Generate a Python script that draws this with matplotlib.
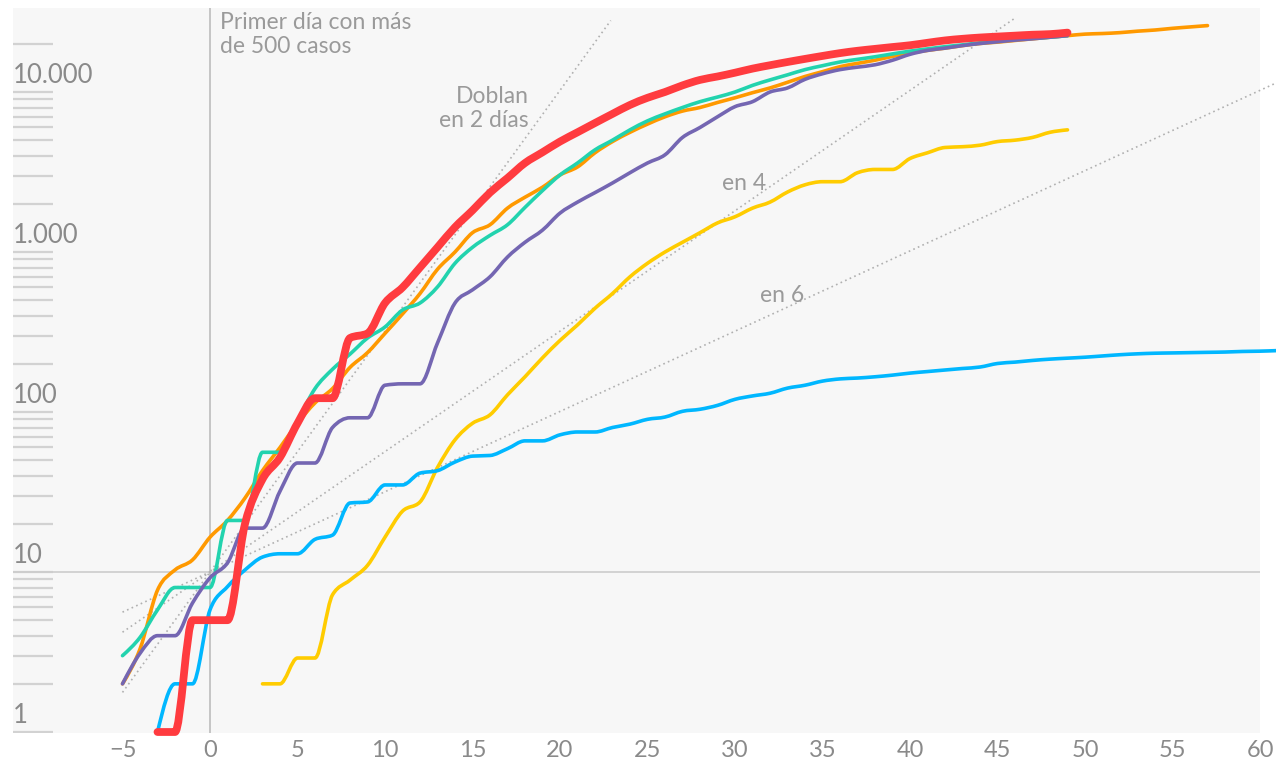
import numpy as np
import matplotlib
matplotlib.use("Agg")
import matplotlib.pyplot as plt
from matplotlib.path import Path
from matplotlib.patches import PathPatch

plt.rcParams['font.family'] = ['Lato', 'DejaVu Sans']

# ---------------- data ----------------
red_x = list(range(-3, 50))
red_y = [1, 1, 5, 5, 5, 20, 38, 52, 85, 122, 122, 290, 310, 480,
         600, 800, 1070, 1430, 1820, 2350, 2900, 3600, 4200, 4900,
         5600, 6400, 7300, 8300, 9200, 10000, 11000, 11900, 12500, 13200,
         14000, 14700, 15400, 16100, 16800, 17500, 18100, 18600, 19100, 19600,
         20300, 21000, 21500, 21900, 22200, 22500, 22800, 23000, 23500]

orange_x = list(range(-5, 58))
orange_y = [2, 3.3, 7.7, 10.3, 11.9, 16.5, 21, 29, 43, 60, 85, 114, 140, 190,
            235, 310, 410, 550, 780, 1000, 1320, 1480, 1880, 2200, 2540, 3030,
            3400, 4170, 4900, 5600, 6300, 7000, 7600, 8000, 8600, 9200, 9900,
            10600, 11500, 12500, 13400, 14400, 15100, 15800, 16700, 17500, 18200,
            18800, 19500, 20100, 20500, 21000, 21500, 22000, 22500, 23000, 23200,
            23500, 24000, 24400, 25000, 25500, 26000]

teal_x = list(range(-5, 50))
teal_y = [3, 3.9, 5.8, 8, 8, 8, 21, 21, 56, 56, 88, 140, 185, 230, 290, 340,
          434, 480, 605, 850, 1070, 1270, 1480, 1900, 2420, 3030, 3600, 4350,
          5000, 5800, 6600, 7300, 8000, 8700, 9300, 10000, 11000, 11900, 12800,
          13800, 14600, 15400, 16000, 16600, 17300, 18000, 18600, 19200, 19700,
          20300, 20800, 21300, 21700, 22000, 22500]

purple_x = list(range(-5, 50))
purple_y = [2, 3.1, 4, 4, 6.4, 9.2, 11.4, 18.8, 18.8, 32, 48, 48, 80, 92, 92,
            147, 150, 150, 270, 480, 580, 700, 930, 1150, 1370, 1750, 2050,
            2350, 2700, 3130, 3600, 4050, 5200, 6000, 7000, 8100, 8700, 10000,
            10600, 12000, 13000, 13800, 14300, 14800, 15800, 17200, 18200, 18800,
            19500, 20100, 20600, 21100, 21500, 22000, 22500]

yellow_x = list(range(3, 50))
yellow_y = [2, 2, 2.9, 2.9, 7.2, 8.9, 11, 16.5, 24, 27.4, 45, 67, 85, 96, 128,
            166, 218, 280, 350, 445, 550, 700, 850, 1000, 1150, 1320, 1520,
            1660, 1880, 2050, 2370, 2630, 2750, 2750, 3130, 3280, 3280, 3840,
            4170, 4500, 4550, 4650, 4900, 5000, 5200, 5600, 5800]

blue_x = list(range(-3, 62))
blue_y = [1, 2, 2, 5.8, 8.1, 10.3, 12.4, 13, 13, 16, 17, 27, 27.4, 35, 35,
          41.5, 43, 48.7, 53, 53.5, 59, 66, 66, 72, 75, 75, 80, 84, 90, 93,
          101, 104, 110, 120, 126, 131, 141, 147, 156, 161, 163, 166, 170, 175,
          179, 183, 187, 191, 201, 205, 210, 214, 217, 220, 224, 228, 231, 233,
          234, 235, 236, 237, 239, 240, 242]

doubling_days = [2, 4, 6]
doubling_start = -5
doubling_end = [22.9, 46, 61]

x_ticks = list(range(-5, 61, 5))
x_ticklabels = ['\u22125'] + [str(v) for v in range(0, 61, 5)]
y_labels = {10000: '10.000', 1000: '1.000', 100: '100', 10: '10', 1: '1'}

# ---------------- helpers ----------------
def monotone_path(xs, ys):
    x = np.asarray(xs, float)
    y = np.log10(np.asarray(ys, float))
    n = len(x)
    h = np.diff(x)
    s = np.diff(y) / h
    t = np.zeros(n)
    for i in range(1, n - 1):
        h0, h1, s0, s1 = h[i - 1], h[i], s[i - 1], s[i]
        p = (s0 * h1 + s1 * h0) / (h0 + h1)
        t[i] = (np.sign(s0) + np.sign(s1)) * min(abs(s0), abs(s1), 0.5 * abs(p))
    t[0] = (3 * s[0] - t[1]) / 2 if n > 2 else s[0]
    t[-1] = (3 * s[-1] - t[-2]) / 2 if n > 2 else s[-1]
    verts = [(x[0], y[0])]
    codes = [Path.MOVETO]
    for i in range(n - 1):
        dx = (x[i + 1] - x[i]) / 3
        verts += [(x[i] + dx, y[i] + dx * t[i]),
                  (x[i + 1] - dx, y[i + 1] - dx * t[i + 1]),
                  (x[i + 1], y[i + 1])]
        codes += [Path.CURVE4] * 3
    verts = np.array(verts)
    verts[:, 1] = 10 ** verts[:, 1]
    return Path(verts, codes)

# ---------------- figure ----------------
W, H = 1276, 767
fig = plt.figure(figsize=(W / 100, H / 100), dpi=100)
fig.patch.set_facecolor('white')

px_per_unit = 17.5
x0_px = 210
def xpx(p):
    return (p - x0_px) / px_per_unit
def ypx(p):
    return 10 ** ((732 - p) / 160)

XMIN, XMAX = xpx(13), xpx(1276)
YMIN, YMAX = ypx(733), ypx(8)

ax = fig.add_axes([13 / W, (H - 733) / H, 1 - 13 / W, (733 - 8) / H])
ax.set_yscale('log')
ax.set_xlim(XMIN, XMAX)
ax.set_ylim(YMIN, YMAX)
ax.set_facecolor('white')
for sp in ax.spines.values():
    sp.set_visible(False)

ax.axvspan(XMIN, 60, color='#f7f7f7', lw=0, zorder=0)

# short tick marks on the left
minor_vals = [m * 10 ** e for e in range(0, 4) for m in range(1, 10)] + [10000, 20000]
ax.hlines(minor_vals, XMIN, xpx(53), color='#d2d2d2', lw=1.6, zorder=1)
ax.hlines([10], XMIN, 60, color='#cccccc', lw=1.2, zorder=1)
ax.axvline(0, color='#bdbdbd', lw=1.2, zorder=1)

LABEL_C = '#8a8a8a'
for val, lab in y_labels.items():
    ax.annotate(lab, (XMIN, val), xytext=(0, 9), textcoords='offset pixels',
                ha='left', va='baseline', fontsize=18.5, color=LABEL_C)

# doubling reference lines
for d, xe in zip(doubling_days, doubling_end):
    ax.plot([doubling_start, xe],
            [10 * 2 ** (doubling_start / d), 10 * 2 ** (xe / d)],
            color='#b0b0b0', lw=1.2, ls=(0, (1, 2)), zorder=2, clip_on=False)

series = [
    (yellow_x, yellow_y, '#ffcc00', 2.6),
    (blue_x, blue_y, '#00b7ff', 2.6),
    (orange_x, orange_y, '#ff9900', 2.6),
    (teal_x, teal_y, '#22d3ae', 2.6),
    (purple_x, purple_y, '#7466b2', 2.6),
    (red_x, red_y, '#ff3b3f', 5.6),
]
for i, (xs, ys, c, lw) in enumerate(series):
    patch = PathPatch(monotone_path(xs, ys), fill=False, edgecolor=c, lw=lw,
                      capstyle='round', joinstyle='round', zorder=3 + i,
                      clip_on=False)
    ax.add_patch(patch)

ax.set_yticks([])
ax.minorticks_off()
ax.set_xticks(x_ticks)
ax.set_xticklabels(x_ticklabels)
ax.tick_params(axis='x', length=0, pad=5, labelsize=17, labelcolor=LABEL_C)

txt_kw = dict(fontsize=16.5, color='#9a9a9a', linespacing=1.2)
ax.text(xpx(220), ypx(12), 'Primer día con más\nde 500 casos', ha='left', va='top', **txt_kw)
ax.text(xpx(529), ypx(86), 'Doblan\nen 2 días', ha='right', va='top',
        multialignment='right', **txt_kw)
ax.text(xpx(722), ypx(183), 'en 4', ha='left', va='center', **txt_kw)
ax.text(xpx(760), ypx(295), 'en 6', ha='left', va='center', **txt_kw)

fig.savefig('out.png', dpi=100, facecolor='white')
